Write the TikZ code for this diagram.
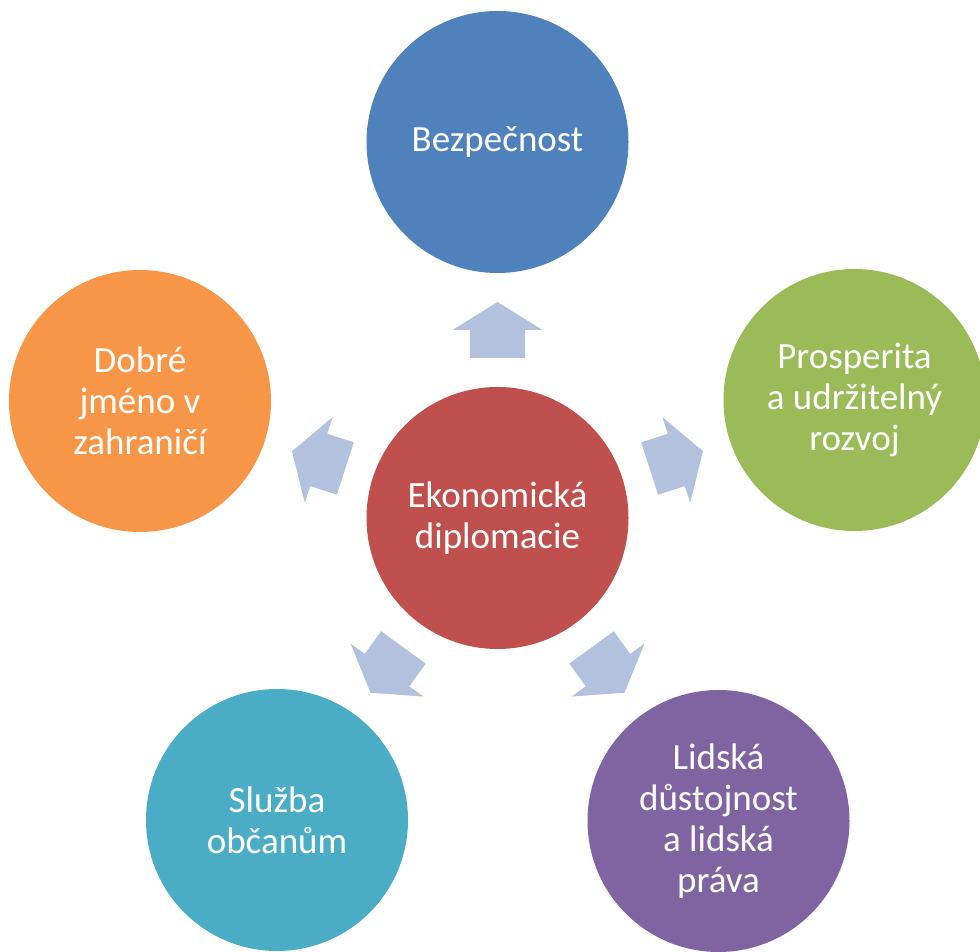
\documentclass[tikz,border=0pt]{standalone}
\usepackage{fontspec}
\setmainfont{Carlito}
\definecolor{cblue}{HTML}{4F81BD}
\definecolor{cred}{HTML}{C0504D}
\definecolor{cgreen}{HTML}{9BBB59}
\definecolor{corange}{HTML}{F79646}
\definecolor{cteal}{HTML}{4BACC6}
\definecolor{cpurple}{HTML}{8064A2}
\definecolor{carrow}{HTML}{B2C2DE}
\begin{document}
\begin{tikzpicture}[x=1pt,y=1pt,
  bubble/.style={circle, minimum size=262pt, inner sep=0pt, text=white,
    align=center, font=\fontsize{37}{41}\selectfont},
  blockarrow/.style={fill=carrow}]
\useasboundingbox (0,0) rectangle (980,952);
\coordinate (c) at (497.5,434);
% block arrows
\foreach \a in {90,18,162,-54,-126} {
  \begin{scope}[shift={(c)}, rotate=\a]
    \fill[blockarrow] (160,-27.5) -- (188,-27.5) -- (188,-45) -- (216,0)
      -- (188,45) -- (188,27.5) -- (160,27.5) -- cycle;
  \end{scope}
}
\node[bubble, fill=cred] (center) at (c) {Ekonomická\\diplomacie};
\node[bubble, fill=cblue] (top) at (497.5,810) {Bezpečnost};
\node[bubble, fill=cgreen] (right) at (854.5,552) {Prosperita\\a udržitelný\\rozvoj};
\node[bubble, fill=corange] (left) at (140,551) {Dobré\\jméno v\\zahraničí};
\node[bubble, fill=cteal] (bl) at (277,132) {Služba\\občanům};
\node[bubble, fill=cpurple] (br) at (718.5,131) {Lidská\\důstojnost\\a lidská\\práva};
\end{tikzpicture}
\end{document}
